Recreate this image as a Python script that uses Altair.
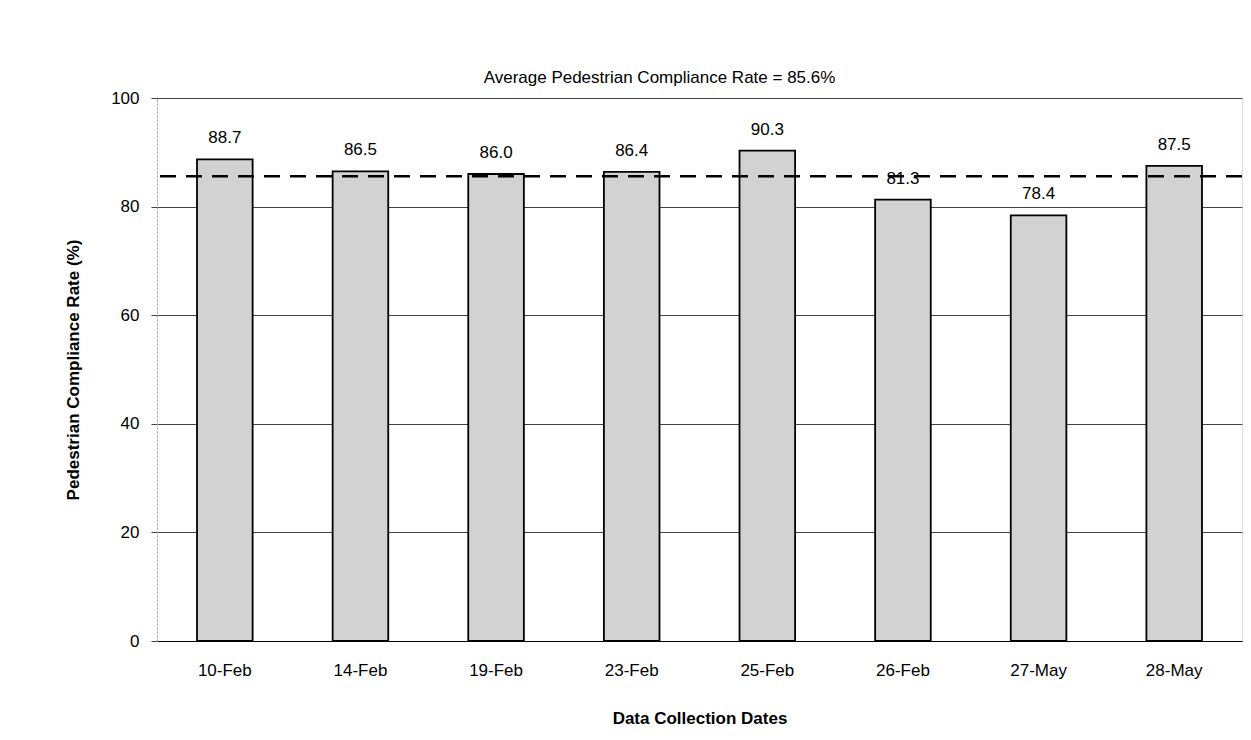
import altair as alt
import pandas as pd

dates = ["10-Feb", "14-Feb", "19-Feb", "23-Feb", "25-Feb", "26-Feb", "27-May", "28-May"]
rates = [88.7, 86.5, 86.0, 86.4, 90.3, 81.3, 78.4, 87.5]
average = [85.6]

df = pd.DataFrame({"date": dates, "rate": rates})
avg_df = pd.DataFrame({"avg": average})

FONT = "Liberation Sans"
FS = 17

x = alt.X("date:N", sort=dates, title="Data Collection Dates",
          scale=alt.Scale(paddingInner=0.59, paddingOuter=0.295),
          axis=alt.Axis(labelAngle=0, ticks=False, labelPadding=21, titlePadding=32,
                        labelFontSize=FS, titleFontSize=FS, titleFontWeight="bold",
                        labelFont=FONT, titleFont=FONT, domainColor="black",
                        labelColor="black", titleColor="black"))
y = alt.Y("rate:Q", title="Pedestrian Compliance Rate (%)",
          scale=alt.Scale(domain=[0, 100]),
          axis=alt.Axis(values=[0, 20, 40, 60, 80, 100], tickSize=6, labelPadding=12,
                        titlePadding=28, labelFontSize=FS, titleFontSize=FS,
                        titleFontWeight="bold", labelFont=FONT, titleFont=FONT,
                        gridColor="#444444", gridWidth=1, tickColor="#444444",
                        domainColor="#aaaaaa", domainDash=[2, 2],
                        labelColor="black", titleColor="black"))

bars = alt.Chart(df).mark_bar(fill="#d2d2d2", stroke="black", strokeWidth=1.8).encode(x=x, y=y)
labels = alt.Chart(df).mark_text(baseline="bottom", dy=-12, fontSize=FS, font=FONT,
                                 color="black").encode(
    x=alt.X("date:N", sort=dates), y="rate:Q", text=alt.Text("rate:Q", format=".1f"))
rule = alt.Chart(avg_df).mark_rule(color="black", strokeWidth=2.5, strokeDash=[16, 10]).encode(
    y="avg:Q")

chart = alt.layer(bars, labels, rule).properties(
    width=1085, height=543,
    title=alt.TitleParams("Average Pedestrian Compliance Rate = 85.6%", fontSize=FS,
                          font=FONT, fontWeight="normal", anchor="middle", dx=-40,
                          offset=2, color="black"),
    autosize=alt.AutoSizeParams(type="none"),
    padding={"left": 157, "top": 98, "right": 9, "bottom": 99},
).configure_view(stroke=None).configure(background="white")

chart.save("out.html", embed_options={"renderer": "svg", "actions": False})
